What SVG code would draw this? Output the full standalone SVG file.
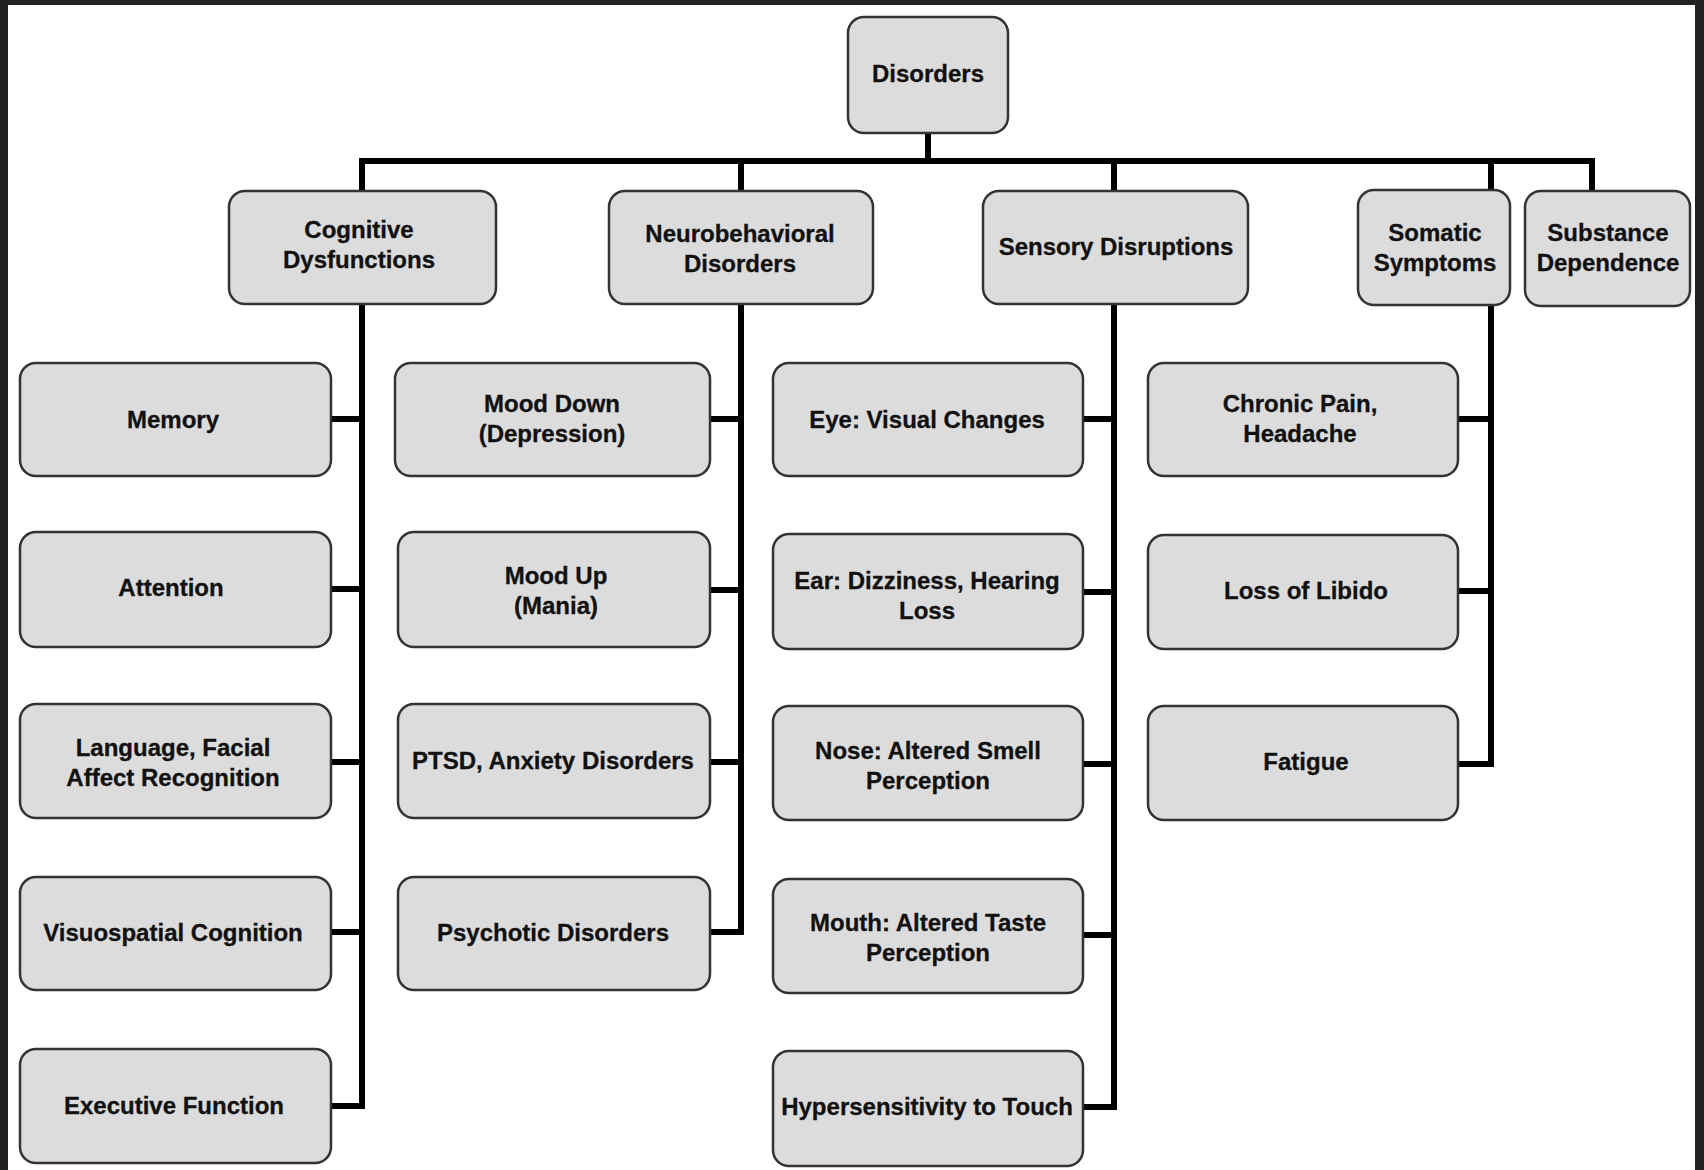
<svg xmlns="http://www.w3.org/2000/svg" width="1704" height="1170" viewBox="0 0 1704 1170">
<style>
.box{fill:#dcdcdc;stroke:#333;stroke-width:2.5}
.t{font-family:"Liberation Sans",Arial,sans-serif;font-weight:bold;font-size:24px;fill:#111;text-anchor:middle;stroke:#111;stroke-width:0.3}
.c{fill:none;stroke:#000;stroke-width:6;stroke-linejoin:miter;stroke-linecap:butt}
</style>
<rect x="0" y="0" width="1704" height="1170" fill="#222"/>
<rect x="8" y="5" width="1687" height="1165" fill="#fff"/>
<g id="connectors">
<path class="c" d="M928,133 V161 M362,191 V161 H1592 V191 M741,161 V191 M1114,161 V191 M1491,161 V191"/>
<path class="c" d="M362,304 V1106 H331 M331,419 H362 M331,589 H362 M331,762 H362 M331,932 H362"/>
<path class="c" d="M741,304 V932 H710 M710,419 H741 M710,590 H741 M710,762 H741"/>
<path class="c" d="M1114,304 V1107 H1083 M1083,419 H1114 M1083,592 H1114 M1083,764 H1114 M1083,935 H1114"/>
<path class="c" d="M1491,305 V764 H1458 M1458,419 H1491 M1458,591 H1491"/>
</g>
<g id="disorders"><rect class="box" x="848" y="17" width="160" height="116" rx="16"/><text class="t" x="928" y="82">Disorders</text></g>
<g id="cognitive"><rect class="box" x="229" y="191" width="267" height="113" rx="16"/><text class="t" x="359" y="238">Cognitive</text><text class="t" x="359" y="268">Dysfunctions</text></g>
<g id="neurobehavioral"><rect class="box" x="609" y="191" width="264" height="113" rx="16"/><text class="t" x="740" y="242">Neurobehavioral</text><text class="t" x="740" y="272">Disorders</text></g>
<g id="sensory"><rect class="box" x="983" y="191" width="265" height="113" rx="16"/><text class="t" x="1116" y="255">Sensory Disruptions</text></g>
<g id="somatic"><rect class="box" x="1358" y="190" width="152" height="115" rx="16"/><text class="t" x="1435" y="241">Somatic</text><text class="t" x="1435" y="271">Symptoms</text></g>
<g id="substance"><rect class="box" x="1525" y="191" width="165" height="115" rx="16"/><text class="t" x="1608" y="241">Substance</text><text class="t" x="1608" y="271">Dependence</text></g>

<g id="memory"><rect class="box" x="20" y="363" width="311" height="113" rx="16"/><text class="t" x="173" y="428">Memory</text></g>
<g id="attention"><rect class="box" x="20" y="532" width="311" height="115" rx="16"/><text class="t" x="171" y="596">Attention</text></g>
<g id="language"><rect class="box" x="20" y="704" width="311" height="114" rx="16"/><text class="t" x="173" y="756">Language, Facial</text><text class="t" x="173" y="786">Affect Recognition</text></g>
<g id="visuospatial"><rect class="box" x="20" y="877" width="311" height="113" rx="16"/><text class="t" x="173" y="941">Visuospatial Cognition</text></g>
<g id="executive"><rect class="box" x="20" y="1049" width="311" height="114" rx="16"/><text class="t" x="174" y="1114">Executive Function</text></g>

<g id="mood-down"><rect class="box" x="395" y="363" width="315" height="113" rx="16"/><text class="t" x="552" y="412">Mood Down</text><text class="t" x="552" y="442">(Depression)</text></g>
<g id="mood-up"><rect class="box" x="398" y="532" width="312" height="115" rx="16"/><text class="t" x="556" y="584">Mood Up</text><text class="t" x="556" y="614">(Mania)</text></g>
<g id="ptsd"><rect class="box" x="398" y="704" width="312" height="114" rx="16"/><text class="t" x="553" y="769">PTSD, Anxiety Disorders</text></g>
<g id="psychotic"><rect class="box" x="398" y="877" width="312" height="113" rx="16"/><text class="t" x="553" y="941">Psychotic Disorders</text></g>

<g id="eye"><rect class="box" x="773" y="363" width="310" height="113" rx="16"/><text class="t" x="927" y="428">Eye: Visual Changes</text></g>
<g id="ear"><rect class="box" x="773" y="534" width="310" height="115" rx="16"/><text class="t" x="927" y="589">Ear: Dizziness, Hearing</text><text class="t" x="927" y="619">Loss</text></g>
<g id="nose"><rect class="box" x="773" y="706" width="310" height="114" rx="16"/><text class="t" x="928" y="759">Nose: Altered Smell</text><text class="t" x="928" y="789">Perception</text></g>
<g id="mouth"><rect class="box" x="773" y="879" width="310" height="114" rx="16"/><text class="t" x="928" y="931">Mouth: Altered Taste</text><text class="t" x="928" y="961">Perception</text></g>
<g id="touch"><rect class="box" x="773" y="1051" width="310" height="115" rx="16"/><text class="t" x="927" y="1115">Hypersensitivity to Touch</text></g>

<g id="chronic-pain"><rect class="box" x="1148" y="363" width="310" height="113" rx="16"/><text class="t" x="1300" y="412">Chronic Pain,</text><text class="t" x="1300" y="442">Headache</text></g>
<g id="libido"><rect class="box" x="1148" y="535" width="310" height="114" rx="16"/><text class="t" x="1306" y="599">Loss of Libido</text></g>
<g id="fatigue"><rect class="box" x="1148" y="706" width="310" height="114" rx="16"/><text class="t" x="1306" y="770">Fatigue</text></g>
</svg>
